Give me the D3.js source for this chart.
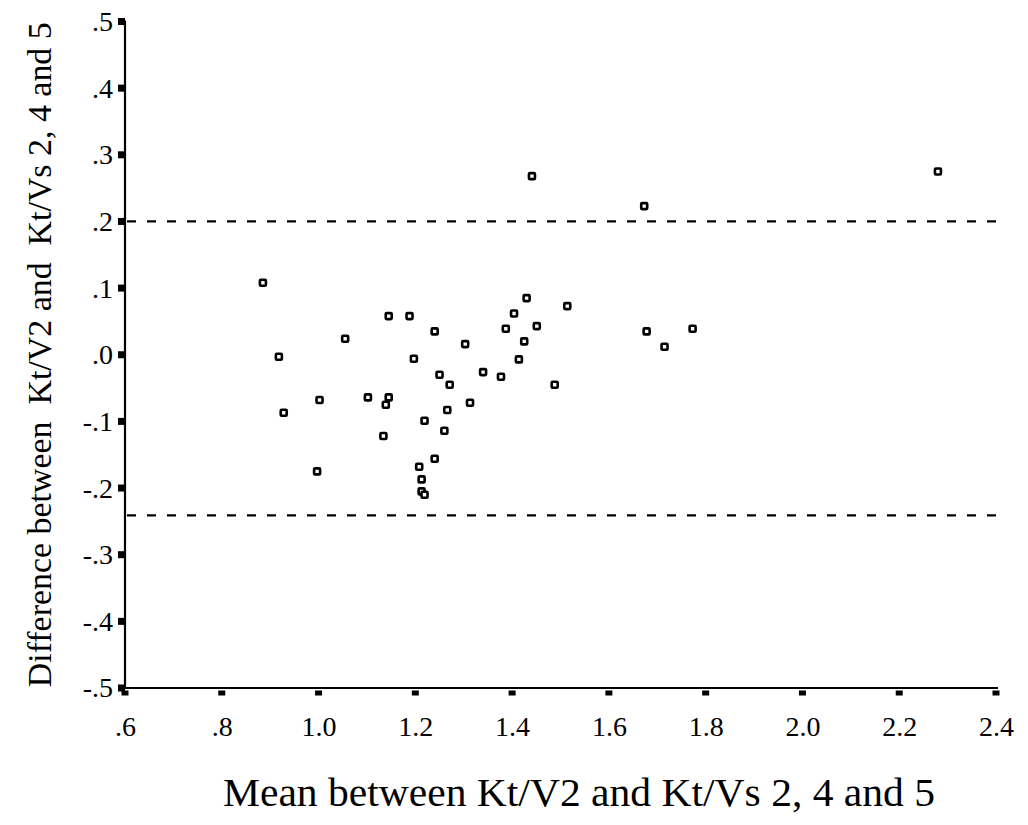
<!DOCTYPE html>
<html>
<head>
<meta charset="utf-8">
<script src="https://cdn.jsdelivr.net/npm/d3@7"></script>
<style>
  body { margin: 0; background: #fff; }
  svg text { font-family: "Liberation Serif", "Times New Roman", serif; fill: #000; white-space: pre; }
  .tick text { font-size: 28px; }
</style>
</head>
<body>
<div id="chart"></div>
<script>
// mean values (x) and differences (y)
var meanVals = [2.280, 1.441, 1.673, 0.885, 1.430, 1.514, 1.404, 1.145, 1.188, 1.451,
                1.387, 1.240, 1.425, 1.055, 1.303, 1.678, 1.715, 1.773, 0.918, 1.197,
                1.414, 1.250, 1.340, 1.377, 1.271, 1.488, 1.002, 1.102, 1.145, 1.139,
                1.313, 0.928, 1.266, 1.219, 1.260, 1.134, 1.240, 1.208, 0.997, 1.213,
                1.213, 1.219];
var diffVals = [0.275, 0.268, 0.223, 0.108, 0.085, 0.073, 0.062, 0.058, 0.058, 0.043,
                0.039, 0.035, 0.020, 0.024, 0.016, 0.035, 0.012, 0.039, -0.003, -0.006,
                -0.007, -0.030, -0.026, -0.033, -0.045, -0.045, -0.068, -0.064, -0.064, -0.075,
                -0.072, -0.087, -0.083, -0.099, -0.114, -0.122, -0.156, -0.168, -0.175, -0.187,
                -0.205, -0.210];
var limitLines = [0.2, -0.241];
var xTicks = [0.6, 0.8, 1.0, 1.2, 1.4, 1.6, 1.8, 2.0, 2.2, 2.4];
var yTicks = [0.5, 0.4, 0.3, 0.2, 0.1, 0.0, -0.1, -0.2, -0.3, -0.4, -0.5];
var xTitle = "Mean between Kt/V2 and Kt/Vs 2, 4 and 5";
var yTitle = "Difference between  Kt/V2 and  Kt/Vs 2, 4 and 5";

var width = 1028, height = 825;
var margin = { top: 21.5, right: 32, bottom: 137, left: 125 };

var x = d3.scaleLinear().domain([0.6, 2.4]).range([margin.left, width - margin.right]);
var y = d3.scaleLinear().domain([-0.5, 0.5]).range([height - margin.bottom, margin.top]);

// SPSS style labels: drop leading zero
function fmt(v) {
    var s = Math.abs(v) < 1 ? d3.format(".1f")(Math.abs(v)).replace(/^0/, "") : d3.format(".1f")(v);
    return (v < -1e-9 ? "-" : "") + s;
}

var svg = d3.select("#chart").append("svg")
    .attr("width", width)
    .attr("height", height);

// axes
var xAxis = svg.append("g")
    .attr("transform", "translate(0," + y(-0.5) + ")")
    .attr("font-size", 28)
    .call(d3.axisBottom(x).tickValues(xTicks).tickSize(0).tickPadding(28).tickFormat(fmt));
xAxis.attr("font-size", 28);
xAxis.select(".domain").attr("stroke-width", 2.2).attr("d", "M" + x(0.6) + ",0H" + (x(2.4) + 2));

var yAxis = svg.append("g")
    .attr("transform", "translate(" + x(0.6) + ",0)")
    .call(d3.axisLeft(y).tickValues(yTicks).tickSize(0).tickPadding(12).tickFormat(fmt));
yAxis.attr("font-size", 28);
yAxis.select(".domain").attr("stroke-width", 2.2).attr("d", "M0," + (y(0.5) - 1) + "V" + y(-0.5));

// square tick marks
svg.selectAll(".xmark").data(xTicks).enter().append("rect")
    .attr("class", "xmark")
    .attr("x", d => x(d) - 3.5)
    .attr("y", y(-0.5) + 2.5)
    .attr("width", 7)
    .attr("height", 5)
    .attr("fill", "#000");

svg.selectAll(".ymark").data(yTicks).enter().append("rect")
    .attr("class", "ymark")
    .attr("x", x(0.6) - 7)
    .attr("y", d => y(d) - 3.5)
    .attr("width", 7)
    .attr("height", 7)
    .attr("fill", "#000");

// limits of agreement
svg.selectAll(".limit").data(limitLines).enter().append("line")
    .attr("class", "limit")
    .attr("x1", x(0.6) + 2)
    .attr("x2", x(2.4))
    .attr("y1", d => y(d))
    .attr("y2", d => y(d))
    .attr("stroke", "#000")
    .attr("stroke-width", 2.2)
    .attr("stroke-dasharray", "9,11");

// points
var points = meanVals.map((m, i) => ({ x: m, y: diffVals[i] }));
svg.selectAll(".pt").data(points).enter().append("rect")
    .attr("class", "pt")
    .attr("x", d => x(d.x) - 3)
    .attr("y", d => y(d.y) - 3)
    .attr("width", 6)
    .attr("height", 6)
    .attr("rx", 1)
    .attr("fill", "#fff")
    .attr("stroke", "#000")
    .attr("stroke-width", 2.6);

// titles
svg.append("text")
    .attr("x", 579)
    .attr("y", 806)
    .attr("text-anchor", "middle")
    .attr("textLength", 712)
    .attr("lengthAdjust", "spacingAndGlyphs")
    .style("font-size", "41px")
    .text(xTitle);

svg.append("text")
    .attr("transform", "translate(51," + y(0) + ") rotate(-90)")
    .attr("text-anchor", "middle")
    .attr("textLength", 665)
    .attr("lengthAdjust", "spacingAndGlyphs")
    .style("font-size", "34px")
    .text(yTitle);
</script>
</body>
</html>
